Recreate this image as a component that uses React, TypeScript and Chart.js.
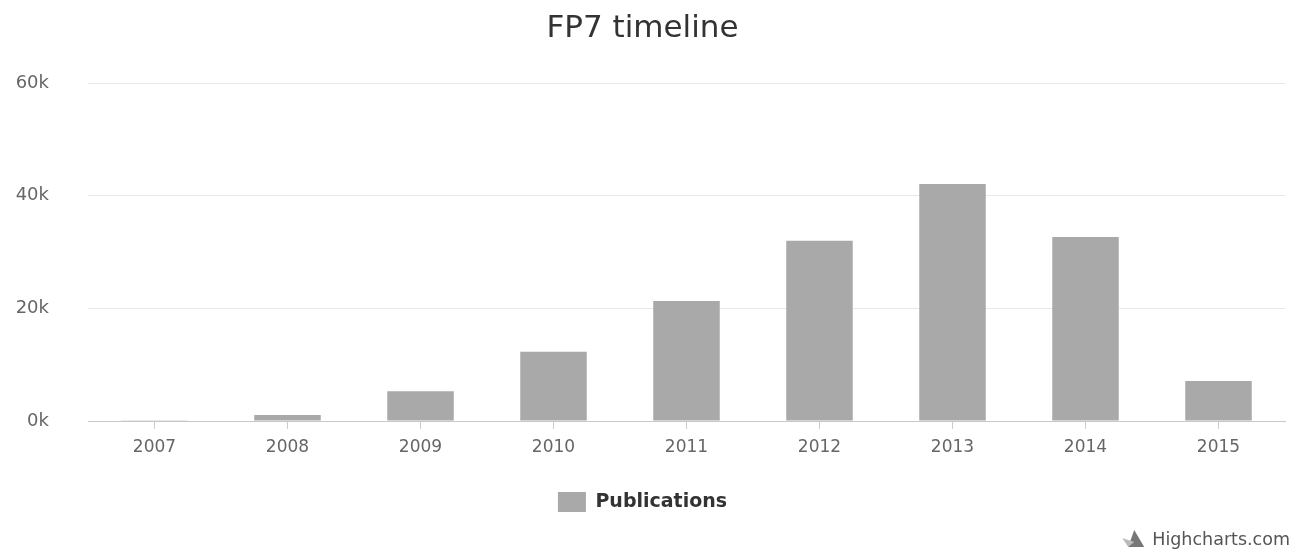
import React, { useEffect, useRef } from "react";
import { Chart, registerables } from "chart.js";

Chart.register(...registerables);

const categories = ["2007", "2008", "2009", "2010", "2011", "2012", "2013", "2014", "2015"];
const publications = [120, 1050, 5300, 12300, 21300, 32000, 42100, 32700, 7100];
const yTicks = [0, 20000, 40000, 60000];

const FONT = "'DejaVu Sans', 'Lucida Grande', sans-serif";

const creditsPlugin = {
  id: "credits",
  afterDraw(chart: any) {
    const ctx = chart.ctx;
    ctx.save();
    const x = 1290;
    const y = 540;
    ctx.font = `17.5px ${FONT}`;
    ctx.fillStyle = "#555";
    ctx.textAlign = "right";
    ctx.textBaseline = "middle";
    ctx.fillText("Highcharts.com", x, y);
    const w = ctx.measureText("Highcharts.com").width;
    const ix = x - w - 26;
    ctx.fillStyle = "#777";
    ctx.beginPath();
    ctx.moveTo(ix + 8, y - 10);
    ctx.lineTo(ix + 18, y + 7);
    ctx.lineTo(ix + 2, y + 7);
    ctx.closePath();
    ctx.fill();
    ctx.fillStyle = "#bbb";
    ctx.beginPath();
    ctx.moveTo(ix - 4, y - 2);
    ctx.lineTo(ix + 8, y + 2);
    ctx.lineTo(ix + 2, y + 7);
    ctx.closePath();
    ctx.fill();
    ctx.restore();
  },
};

export default function App() {
  const ref = useRef<HTMLCanvasElement | null>(null);

  useEffect(() => {
    document.body.style.margin = "0";
    const canvas = ref.current;
    if (!canvas) return;
    const chart = new Chart(canvas, {
      type: "bar",
      data: {
        labels: categories,
        datasets: [
          {
            label: "Publications",
            data: publications,
            backgroundColor: "#a9a9a9",
            borderWidth: 0,
            categoryPercentage: 1,
            barPercentage: 0.5,
          },
        ],
      },
      plugins: [creditsPlugin],
      options: {
        responsive: false,
        animation: false,
        layout: { padding: { left: 0, right: 8, top: 0, bottom: 28 } },
        plugins: {
          title: {
            display: true,
            text: "FP7 timeline",
            color: "#333",
            font: { family: FONT, size: 31, weight: "normal" },
            padding: { top: 10, bottom: 36 },
          },
          legend: {
            display: true,
            position: "bottom",
            labels: {
              color: "#333",
              font: { family: FONT, size: 19, weight: "bold" },
              boxWidth: 28,
              boxHeight: 20,
              padding: 10,
            },
          },
          tooltip: { enabled: false },
        },
        scales: {
          x: {
            offset: true,
            grid: {
              display: true,
              offset: false,
              drawOnChartArea: false,
              drawTicks: true,
              tickLength: 8,
              color: "#cccccc",
            },
            border: { display: true, color: "#c8c8c8", width: 1 },
            ticks: {
              color: "#666",
              font: { family: FONT, size: 17 },
              padding: 8,
              maxRotation: 0,
            },
            afterFit: (scale: any) => {
              scale.height = 61;
            },
          },
          y: {
            min: 0,
            max: 60000,
            afterBuildTicks: (scale: any) => {
              scale.ticks = yTicks.map((v) => ({ value: v }));
            },
            grid: {
              color: "#e8e8e8",
              drawTicks: false,
              tickLength: 0,
            },
            border: { display: false },
            ticks: {
              color: "#666",
              font: { family: FONT, size: 18 },
              padding: 39,
              callback: (v: any) => `${Number(v) / 1000}k`,
            },
            afterFit: (scale: any) => {
              scale.width = 88;
            },
          },
        },
      },
    });
    return () => chart.destroy();
  }, []);

  return <canvas ref={ref} width={1293} height={550} style={{ display: "block" }} />;
}
